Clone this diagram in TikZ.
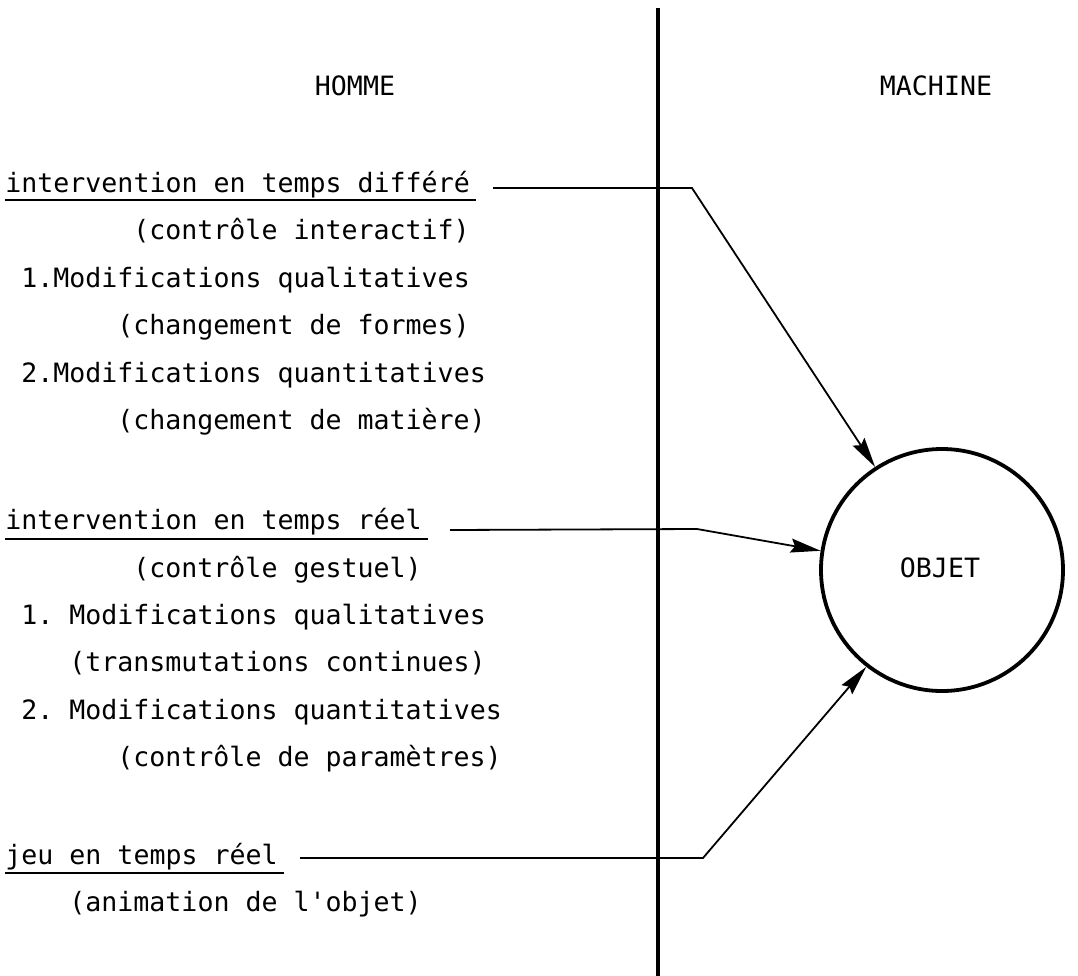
\documentclass[tikz,border=0pt]{standalone}
\usepackage{fontspec}
\setmonofont{DejaVu Sans Mono}
\usetikzlibrary{arrows.meta}
\begin{document}
\begin{tikzpicture}[x=0.5pt,y=-0.5pt,
  txt/.style={anchor=base west,inner sep=0pt,font=\ttfamily\fontsize{13.3pt}{16pt}\selectfont},
  hdr/.style={anchor=base,inner sep=0pt,font=\ttfamily\fontsize{13.3pt}{16pt}\selectfont},
  uline/.style={line width=1pt},
  divider/.style={line width=2pt},
  conn/.style={line width=0.9pt,-{Stealth[length=15pt,width=7pt,inset=2pt]}},
  objnode/.style={circle,draw,line width=1.9pt,minimum size=121pt,inner sep=0pt,font=\ttfamily\fontsize{13.3pt}{16pt}\selectfont}]
\useasboundingbox (0,0) rectangle (1078,976);
% divider
\coordinate (vtop) at (658,8);
\coordinate (vbot) at (658,976);
\draw[divider] (vtop) -- (vbot);
% headers
\node[hdr] (homme) at (355,95) {HOMME};
\node[hdr] (machine) at (936,95) {MACHINE};
% object
\node[objnode] (obj) at (942,570) {};
\node[hdr] (objlabel) at (940,577) {OBJET};
% block 1
\node[txt] (t1) at (5,192) {intervention en temps différé};
\node[txt] (t1a) at (133,239.5) {(contrôle interactif)};
\node[txt] (t1b) at (21,287) {1.Modifications qualitatives};
\node[txt] (t1c) at (117,334.5) {(changement de formes)};
\node[txt] (t1d) at (21,382) {2.Modifications quantitatives};
\node[txt] (t1e) at (117,429.5) {(changement de matière)};
% block 2
\node[txt] (t2) at (5,529) {intervention en temps réel};
\node[txt] (t2a) at (133,577) {(contrôle gestuel)};
\node[txt] (t2b) at (21,624) {1. Modifications qualitatives};
\node[txt] (t2c) at (69,671.5) {(transmutations continues)};
\node[txt] (t2d) at (21,719) {2. Modifications quantitatives};
\node[txt] (t2e) at (117,766) {(contrôle de paramètres)};
% block 3
\node[txt] (t3) at (5,864) {jeu en temps réel};
\node[txt] (t3a) at (69,911) {(animation de l'objet)};
% underlines
\draw[uline] ([yshift=-4pt]t1.base west) -- ([yshift=-4pt,xshift=3pt]t1.base east);
\draw[uline] ([yshift=-5pt]t2.base west) -- ([yshift=-5pt,xshift=3pt]t2.base east);
\draw[uline] ([yshift=-4.5pt]t3.base west) -- ([yshift=-4.5pt,xshift=3pt]t3.base east);
% connectors
\coordinate (a1s) at (493,188);
\coordinate (a1b) at (692,188);
\coordinate (a2s) at (450,530);
\coordinate (a2b) at (697,529);
\coordinate (a3s) at (300,858);
\coordinate (a3b) at (703,858);
\draw[conn] (a1s) -- (a1b) -- (obj.123);
\draw[conn] (a2s) -- (a2b) -- (obj.171);
\draw[conn] (a3s) -- (a3b) -- (obj.232);
\end{tikzpicture}
\end{document}
